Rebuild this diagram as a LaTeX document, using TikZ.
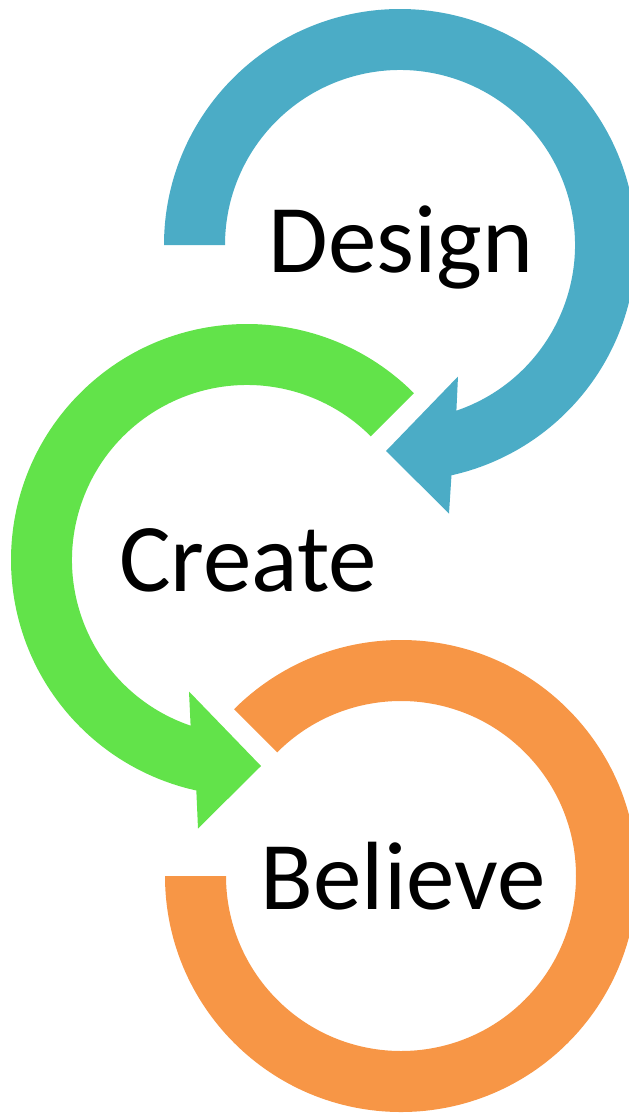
\documentclass[tikz,border=0pt]{standalone}
\usepackage{fontspec}
\setmainfont{Carlito}
\usepackage{xcolor}
\usepackage{tikz}
\usetikzlibrary{positioning}
\definecolor{CycleBlue}{HTML}{4BACC6}
\definecolor{CycleGreen}{HTML}{62E34A}
\definecolor{CycleOrange}{HTML}{F79646}

\begin{document}
\begin{tikzpicture}[x=1pt, y=1pt, every node/.style={font=\fontsize{97}{110}\selectfont}]
      \tikzset{
        word/.style={anchor=base, inner sep=0pt, text=black},
        ring/.style={draw=none}
      }
      \clip (0,0) rectangle (629,-1114);

      % Ring centres
      \coordinate (cdesign) at (400,-245);
      \coordinate (ccreate) at (247,-560);
      \coordinate (cbelieve) at (401,-876);

      % Rings
      \begin{scope}[shift={(cdesign)}]
        \fill[ring, CycleBlue] (180:236) arc[start angle=180, end angle=-77.4, radius=236]
          -- (49,-268.5) -- (-14,-206) -- (58,-131.5)
          -- (-71.2:175) arc[start angle=-71.2, end angle=180, radius=175] -- cycle;
      \end{scope}
      \begin{scope}[shift={(ccreate)}]
        \fill[ring, CycleGreen] (45:236) arc[start angle=45, end angle=257.6, radius=236]
          -- (-49,-268.5) -- (14,-206) -- (-58,-131.5)
          -- (251.2:175) arc[start angle=251.2, end angle=45, radius=175] -- cycle;
      \end{scope}
      \begin{scope}[shift={(cbelieve)}]
        \fill[ring, CycleOrange] (180:236) arc[start angle=180, end angle=495, radius=236]
          -- (135:175) arc[start angle=135, end angle=-180, radius=175] -- cycle;
      \end{scope}

      % Nodes
      \node[word] (design) at (401,-272) {Design};
      \node[word] (create) at (248,-591) {Create};
      \node[word] (believe) at (403,-909) {Believe};

    \end{tikzpicture}
\end{document}
